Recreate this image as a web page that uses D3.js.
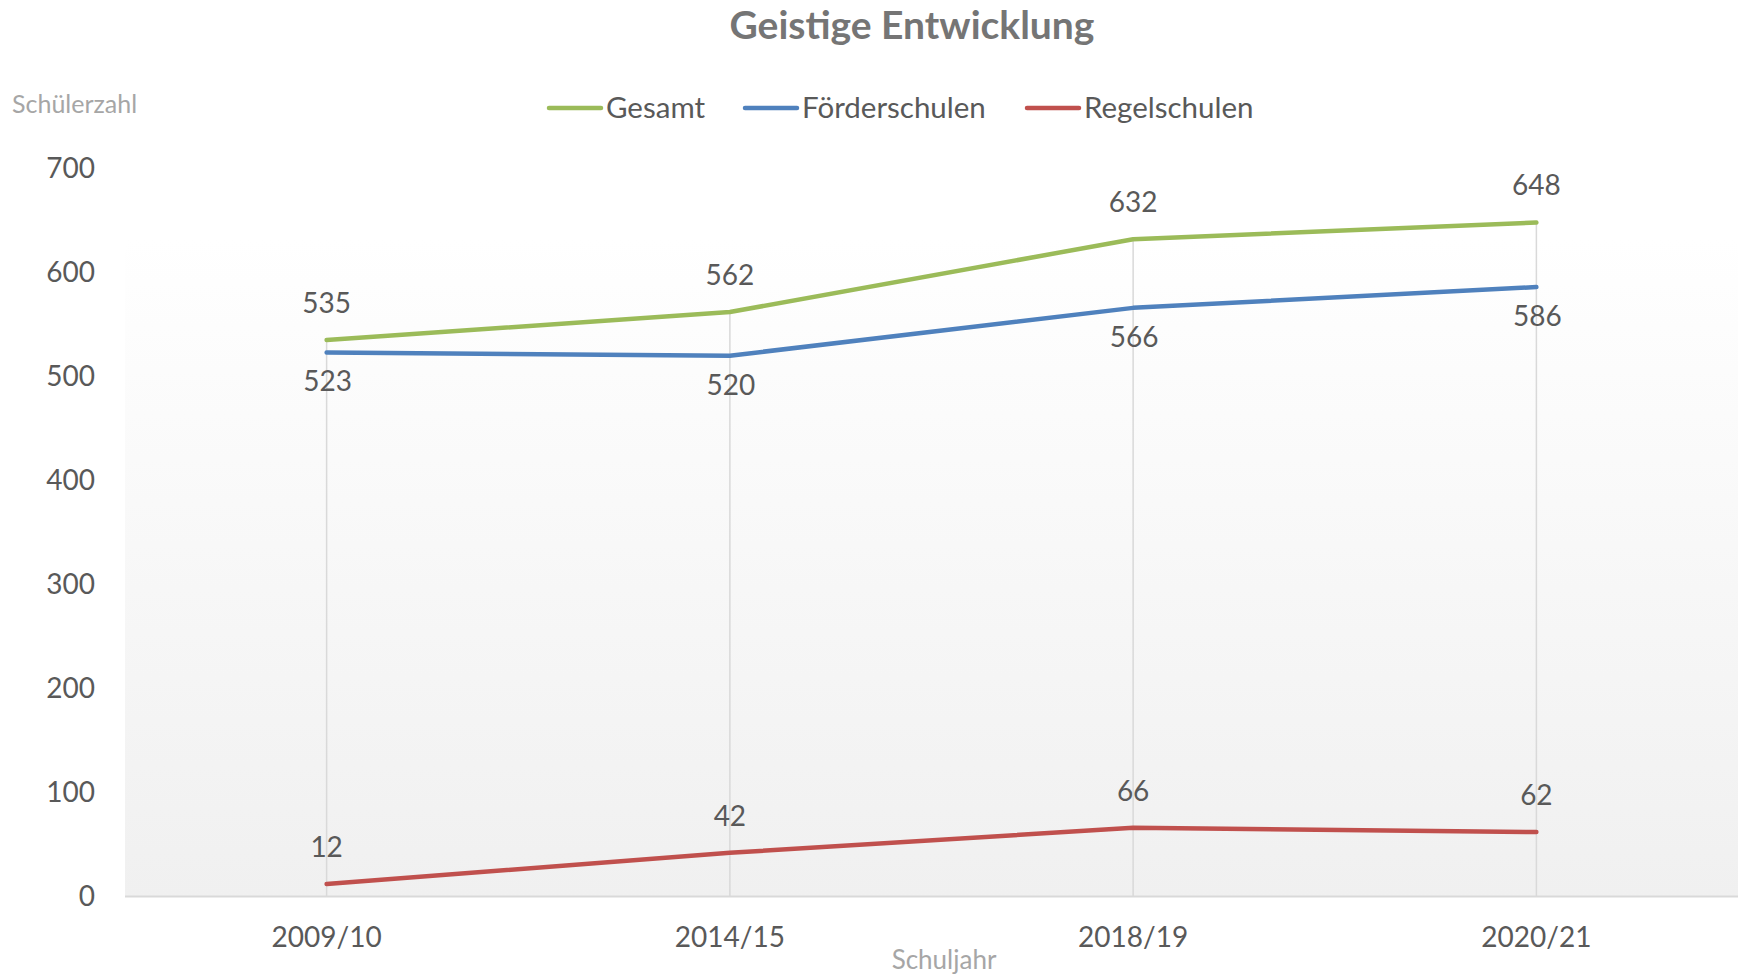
<!DOCTYPE html>
<meta charset="utf-8">
<style>
  body { margin: 0; background: white; }
  text { font-family: Lato, 'Open Sans', sans-serif; }
</style>
<script src="https://d3js.org/d3.v7.min.js"></script>
<body>
<div id="chart"></div>
<script>
// data
const years = ["2009/10", "2014/15", "2018/19", "2020/21"];
const gesamt = [535, 562, 632, 648];
const foerderschulen = [523, 520, 566, 586];
const regelschulen = [12, 42, 66, 62];
const yTicks = [0, 100, 200, 300, 400, 500, 600, 700];

const series = [
  { name: "Gesamt", values: gesamt, color: "#9bbb59", labelPos: "above" },
  { name: "Förderschulen", values: foerderschulen, color: "#4f81bd", labelPos: "below" },
  { name: "Regelschulen", values: regelschulen, color: "#c0504d", labelPos: "above" }
];

const width = 1738, height = 974;
const plot = { left: 125, right: 1738, top: 168.5, bottom: 896.5 };
const textColor = "#595959";

const svg = d3.select("#chart").append("svg")
  .attr("width", width)
  .attr("height", height);

// background gradient of the plot area
const grad = svg.append("defs").append("linearGradient")
  .attr("id", "bg").attr("x1", 0).attr("y1", 0).attr("x2", 0).attr("y2", 1);
grad.append("stop").attr("offset", "0%").attr("stop-color", "#ffffff");
grad.append("stop").attr("offset", "12%").attr("stop-color", "#ffffff");
grad.append("stop").attr("offset", "100%").attr("stop-color", "#f0f0f0");

svg.append("rect")
  .attr("x", plot.left).attr("y", plot.top - 20)
  .attr("width", plot.right - plot.left)
  .attr("height", plot.bottom - plot.top + 20)
  .attr("fill", "url(#bg)");

const x = d3.scaleBand().domain(years).range([plot.left, plot.right]);
const y = d3.scaleLinear().domain([0, 700]).range([plot.bottom, plot.top]);
const cx = d => x(d) + x.bandwidth() / 2;

// drop lines from highest point to axis
svg.append("g").selectAll("line")
  .data(years)
  .join("line")
    .attr("x1", d => cx(d)).attr("x2", d => cx(d))
    .attr("y1", (d, i) => y(d3.max(series, s => s.values[i])))
    .attr("y2", y(0))
    .attr("stroke", "#d9d9d9")
    .attr("stroke-width", 1.5);

// x axis line
svg.append("line")
  .attr("x1", plot.left).attr("x2", plot.right)
  .attr("y1", y(0)).attr("y2", y(0))
  .attr("stroke", "#d9d9d9").attr("stroke-width", 2);

// y tick labels
svg.append("g").selectAll("text")
  .data(yTicks)
  .join("text")
    .attr("x", 95)
    .attr("y", d => y(d))
    .attr("dy", "0.35em")
    .attr("text-anchor", "end")
    .attr("font-size", 28)
    .attr("fill", textColor)
    .text(d => d);

// x tick labels
svg.append("g").selectAll("text")
  .data(years)
  .join("text")
    .attr("x", d => cx(d))
    .attr("y", 937)
    .attr("dy", "0.35em")
    .attr("text-anchor", "middle")
    .attr("font-size", 28)
    .attr("fill", textColor)
    .text(d => d);

// lines
const line = d3.line()
  .x((d, i) => cx(years[i]))
  .y(d => y(d));

svg.append("g").selectAll("path")
  .data(series)
  .join("path")
    .attr("d", s => line(s.values))
    .attr("fill", "none")
    .attr("stroke", s => s.color)
    .attr("stroke-width", 4.5)
    .attr("stroke-linecap", "round")
    .attr("stroke-linejoin", "round");

// data labels
series.forEach(s => {
  svg.append("g").selectAll("text")
    .data(s.values)
    .join("text")
      .attr("x", (d, i) => cx(years[i]) + (s.labelPos === "below" ? 1 : 0))
      .attr("y", d => y(d) + (s.labelPos === "above" ? -37 : 29))
      .attr("dy", "0.35em")
      .attr("text-anchor", "middle")
      .attr("font-size", 28)
      .attr("fill", textColor)
      .text(d => d);
});

// title
svg.append("text")
  .attr("x", 912).attr("y", 25)
  .attr("dy", "0.35em")
  .attr("text-anchor", "middle")
  .attr("font-size", 39)
  .attr("font-weight", "bold")
  .attr("fill", "#757575")
  .text("Geistige Entwicklung");

// axis titles
svg.append("text")
  .attr("x", 12).attr("y", 104)
  .attr("dy", "0.35em")
  .attr("font-size", 25)
  .attr("fill", "#a6a6a6")
  .text("Schülerzahl");

svg.append("text")
  .attr("x", 944).attr("y", 960)
  .attr("dy", "0.35em")
  .attr("text-anchor", "middle")
  .attr("font-size", 26)
  .attr("fill", "#a6a6a6")
  .text("Schuljahr");

// legend
const legendX = [549, 745, 1027];
const legend = svg.append("g").selectAll("g")
  .data(series)
  .join("g")
    .attr("transform", (s, i) => `translate(${legendX[i]},108)`);
legend.append("line")
  .attr("x1", 0).attr("x2", 52)
  .attr("stroke", s => s.color)
  .attr("stroke-width", 4.5)
  .attr("stroke-linecap", "round");
legend.append("text")
  .attr("x", 57)
  .attr("dy", "0.35em")
  .attr("font-size", 29.5)
  .attr("fill", textColor)
  .text(s => s.name);
</script>
</body>
